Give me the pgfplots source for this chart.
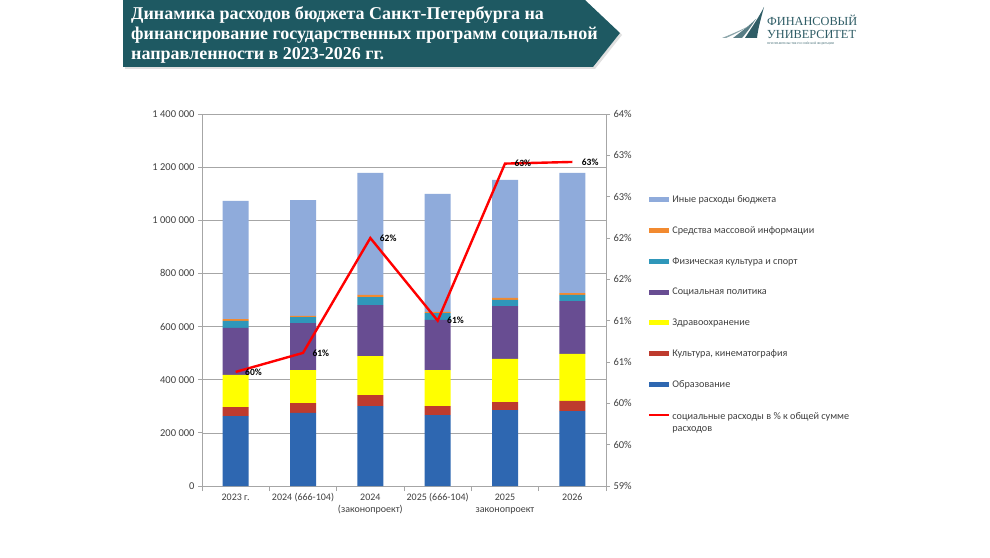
\documentclass[border=0pt]{standalone}
\usepackage{pgfplots}
\pgfplotsset{compat=1.18}
\usepackage{fontspec}
\setmainfont{Carlito}
\newfontfamily\titlefont{Liberation Serif}
\definecolor{banner}{HTML}{1E5962}
\definecolor{cEdu}{HTML}{2E67B1}
\definecolor{cCult}{HTML}{BE3B2E}
\definecolor{cHealth}{HTML}{FFFF00}
\definecolor{cSoc}{HTML}{684D92}
\definecolor{cSport}{HTML}{2F97BA}
\definecolor{cSmi}{HTML}{F28A30}
\definecolor{cOther}{HTML}{8FABDB}
\definecolor{txt}{HTML}{404040}
\definecolor{gridc}{HTML}{A6A6A6}
\definecolor{logoc}{HTML}{2F5D66}
\pgfplotsset{
  mybar/.style={fill=#1, draw=none,
    legend image code/.code={\fill[##1] (0pt,-2.5pt) rectangle (20pt,2.5pt);}},
  lineleg/.style={red, line width=2pt,
    legend image code/.code={\draw[##1] (0pt,1.5pt) -- (20pt,1.5pt);}},
}
\begin{document}
\begin{tikzpicture}
\path[use as bounding box, fill=white] (0pt,0pt) rectangle (990pt,557pt);
\begin{scope}[x=1pt,y=1pt]
% title banner
\fill[black!12] (125,488) -- (595,488) -- (622,522) -- (620,524) -- (593,490) -- (125,490) -- cycle;
\fill[banner] (123,557) -- (585,557) -- (620,524) -- (593,490) -- (123,490) -- cycle;
\node[anchor=north west, text=white, align=left, inner sep=0pt,
  font=\titlefont\bfseries\fontsize{18}{20}\selectfont] at (131,551)
  {Динамика расходов бюджета Санкт-Петербурга на\\
   финансирование государственных программ социальной\\
   направленности в 2023-2026 гг.};
% logo
\fill[logoc] (764,550) .. controls (760,535) and (758,528) .. (757,519) -- (745,519) .. controls (752,530) and (759,540) .. cycle;
\fill[logoc!80] (756,538) .. controls (752,532) and (748,526) .. (742,519) -- (733,519) .. controls (742,526) and (750,532) .. cycle;
\fill[logoc!55] (749,531) .. controls (743,527) and (735,523) .. (726,519) -- (722,519) .. controls (732,523) and (741,527) .. cycle;
\node[anchor=west, text=logoc, inner sep=0pt, font=\titlefont\fontsize{12.3}{13}\selectfont] at (767,537) {ФИНАНСОВЫЙ};
\node[anchor=west, text=logoc, inner sep=0pt, font=\titlefont\fontsize{12.3}{13}\selectfont] at (767,523) {УНИВЕРСИТЕТ};
\node[anchor=west, text=logoc, inner sep=0pt, font=\titlefont\fontsize{2.8}{3}\selectfont] at (767,513) {ПРИ ПРАВИТЕЛЬСТВЕ РОССИЙСКОЙ ФЕДЕРАЦИИ};
\end{scope}
% bars
\begin{axis}[at={(202pt,71pt)}, anchor=south west, scale only axis,
  width=404pt, height=372pt,
  xmin=-0.5, xmax=5.5, ymin=0, ymax=1400000,
  ybar stacked, bar width=26pt,
  xtick={0,1,2,3,4,5},
  xticklabels={2023 г.,2024 (666-104),2024\\(законопроект),2025 (666-104),2025\\законопроект,2026},
  xticklabel style={align=center, text=txt, font=\fontsize{10}{12.5}\selectfont},
  ytick={0,200000,400000,600000,800000,1000000,1200000,1400000},
  yticklabels={0,200 000,400 000,600 000,800 000,1 000 000,1 200 000,1 400 000},
  yticklabel style={text=txt, font=\fontsize{10.5}{12}\selectfont},
  scaled y ticks=false,
  ymajorgrids, grid style={gridc, line width=0.6pt},
  axis line style={gridc, line width=0.8pt},
  tick style={gridc, line width=0.8pt},
  tick align=outside, major tick length=4pt, minor tick length=5pt,
  major x tick style={draw=none},
  minor xtick={-0.5,0.5,1.5,2.5,3.5,4.5,5.5},
  xtick pos=lower, ytick pos=left,
  reverse legend,
  legend cell align=left,
  legend style={at={(1.097,0.792)}, anchor=north west, draw=none, fill=none,
    row sep=18.5pt, font=\fontsize{10.2}{12}\selectfont, text=txt},
]
\addlegendimage{lineleg}
\addlegendentry{\begin{tabular}[t]{@{}l@{}}социальные расходы в \% к общей сумме\\расходов\end{tabular}}
\addplot[mybar=cEdu] coordinates {(0,263000) (1,275000) (2,301000) (3,267000) (4,286000) (5,282000)};
\addlegendentry{Образование}
\addplot[mybar=cCult] coordinates {(0,34000) (1,37000) (2,41000) (3,34000) (4,30000) (5,38000)};
\addlegendentry{Культура, кинематография}
\addplot[mybar=cHealth] coordinates {(0,121000) (1,124000) (2,147000) (3,135000) (4,162000) (5,177000)};
\addlegendentry{Здравоохранение}
\addplot[mybar=cSoc] coordinates {(0,177000) (1,177000) (2,192000) (3,189000) (4,199000) (5,199000)};
\addlegendentry{Социальная политика}
\addplot[mybar=cSport] coordinates {(0,26000) (1,23000) (2,30000) (3,26000) (4,23000) (5,23000)};
\addlegendentry{Физическая культура и спорт}
\addplot[mybar=cSmi] coordinates {(0,7000) (1,4000) (2,8000) (3,4000) (4,8000) (5,7000)};
\addlegendentry{Средства массовой информации}
\addplot[mybar=cOther] coordinates {(0,445000) (1,436000) (2,459000) (3,444000) (4,444000) (5,452000)};
\addlegendentry{Иные расходы бюджета}
\end{axis}
% percentage line
\begin{axis}[at={(202pt,71pt)}, anchor=south west, scale only axis,
  width=404pt, height=372pt,
  xmin=-0.5, xmax=5.5, ymin=59, ymax=63.5,
  axis x line=none, axis y line*=right,
  ytick={59,59.5,60,60.5,61,61.5,62,62.5,63,63.5},
  yticklabels={59\%,60\%,60\%,61\%,61\%,62\%,62\%,63\%,63\%,64\%},
  yticklabel style={text=txt, font=\fontsize{10.5}{12}\selectfont},
  axis line style={gridc, line width=0.8pt},
  tick style={gridc, line width=0.8pt},
  tick align=outside, major tick length=4pt,
]
\addplot[red, line width=2.4pt, nodes near coords, point meta=explicit symbolic,
  nodes near coords style={anchor=west, xshift=5pt, text=black, font=\bfseries\fontsize{9.5}{10}\selectfont}]
  coordinates {(0,60.38) [60\%] (1,60.61) [61\%] (2,62.0) [62\%] (3,61.0) [61\%] (4,62.9) [63\%] (5,62.92) [63\%]};
\end{axis}
\end{tikzpicture}
\end{document}
